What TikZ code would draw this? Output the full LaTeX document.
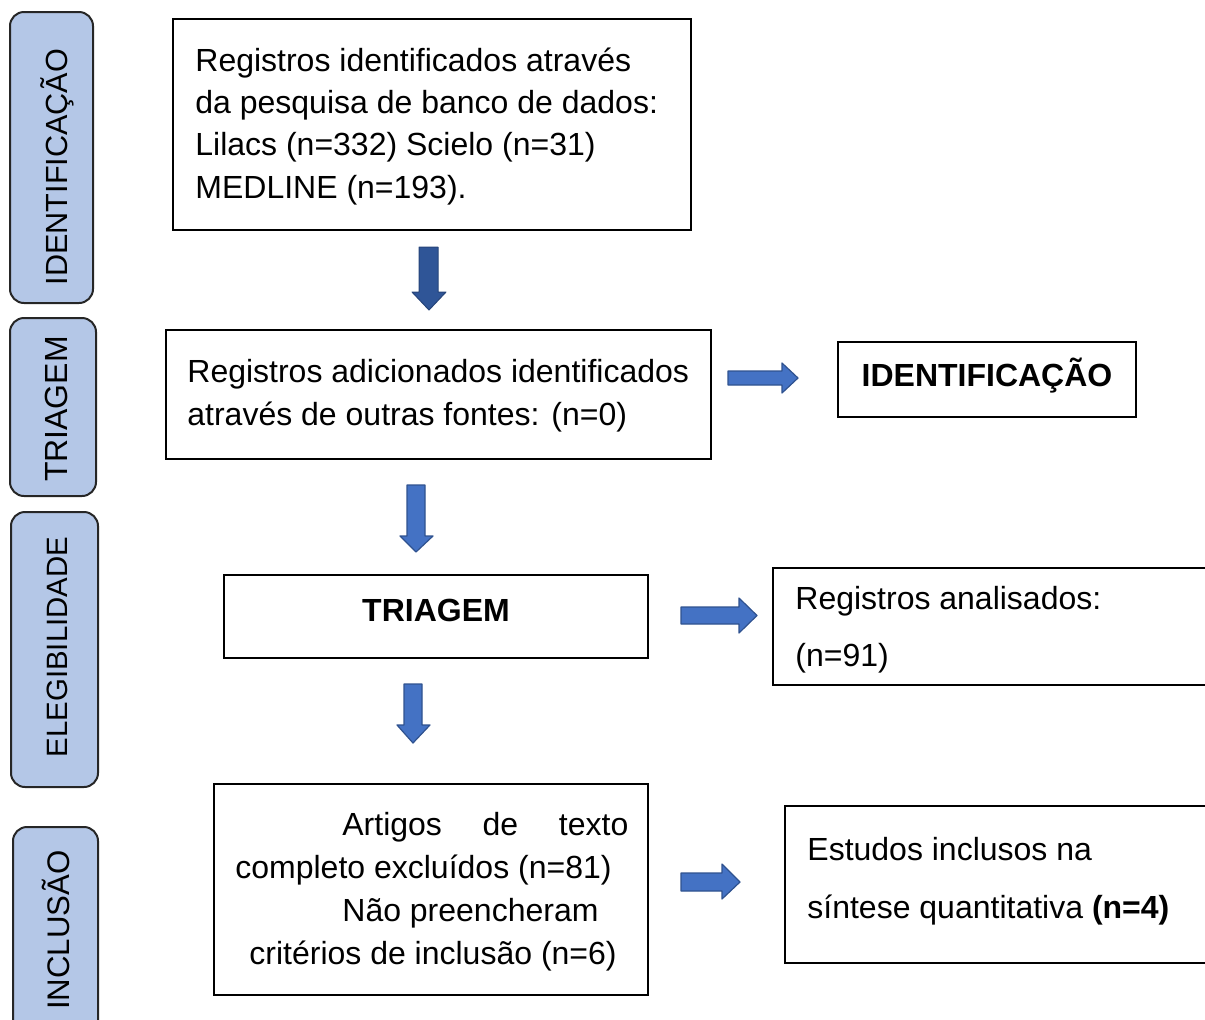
\documentclass[tikz,border=0pt]{standalone}
\usepackage{fontspec}
\setmainfont{Liberation Sans}
\usetikzlibrary{fit}
\definecolor{sidefill}{HTML}{B4C7E7}
\definecolor{arrdark}{HTML}{2F5597}
\definecolor{arrfill}{HTML}{4472C4}
\definecolor{arredge}{HTML}{2F528F}
\begin{document}
\begin{tikzpicture}[x=0.5pt,y=-0.5pt,
  box/.style={draw=black, line width=0.9pt, inner sep=0pt},
  sidebox/.style={draw=black!85, fill=sidefill, line width=1pt, rounded corners=7pt, inner sep=0pt},
  txt/.style={inner sep=0pt, anchor=base west, font=\fontsize{16pt}{21pt}\selectfont},
  ctxt/.style={inner sep=0pt, anchor=base, font=\fontsize{16pt}{21pt}\selectfont\bfseries},
  sidetxt/.style={inner sep=0pt, anchor=base, rotate=90},
  darkarrow/.style={fill=arrdark, draw=arrdark!80!black, line width=0.5pt, line join=round},
  bluearrow/.style={fill=arrfill, draw=arredge, line width=0.6pt, line join=round}]
\useasboundingbox (0,0) rectangle (1205,1019);
\clip (0,0) rectangle (1205,1019);

% side labels
\node[sidebox, fit={(10,12) (93,303)}] (s1) {};
\node[sidebox, fit={(10,318) (96,496)}] (s2) {};
\node[sidebox, fit={(11,512) (98,787)}] (s3) {};
\node[sidebox, fit={(13,827) (98,1045)}] (s4) {};
\node[sidetxt, font=\fontsize{15.3pt}{17pt}\selectfont] (l1) at (68,167) {IDENTIFICAÇÃO};
\node[sidetxt, font=\fontsize{16pt}{18pt}\selectfont] (l2) at (68,409) {TRIAGEM};
\node[sidetxt, font=\fontsize{14.7pt}{17pt}\selectfont] (l3) at (68,647) {ELEGIBILIDADE};
\node[sidetxt, font=\fontsize{15.6pt}{18pt}\selectfont] (l4) at (69,930) {INCLUSÃO};

% boxes
\node[box, fit={(173,19) (691,230)}] (b1) {};
\node[box, fit={(166,330) (711,459)}] (b2) {};
\node[box, fit={(838,342) (1136,417)}] (b3) {};
\node[box, fit={(224,575) (648,658)}] (b4) {};
\node[box, fit={(773,568) (1230,685)}] (b5) {};
\node[box, fit={(214,784) (648,995)}] (b6) {};
\node[box, fit={(785,806) (1230,963)}] (b7) {};

% texts
\node[txt] (t1a) at (195,71) {Registros identificados através};
\node[txt] (t1b) at (195,113) {da pesquisa de banco de dados:};
\node[txt] (t1c) at (195,155) {Lilacs (n=332) Scielo (n=31)};
\node[txt] (t1d) at (195,198) {MEDLINE (n=193).};

\node[txt] (t2a) at (187,382) {Registros adicionados identificados};
\node[txt] (t2b) at (187,425) {através de outras fontes: (n=0)};

\node[ctxt] (t3) at (987,386) {IDENTIFICAÇÃO};
\node[ctxt] (t4) at (436,621) {TRIAGEM};

\node[txt] (t5a) at (795,609) {Registros analisados:};
\node[txt] (t5b) at (795,666) {(n=91)};

\node[txt] (t6a) at (342,835) {\makebox[143pt][s]{Artigos\hfill de\hfill texto}};
\node[txt] (t6b) at (235,878) {completo excluídos (n=81)};
\node[txt] (t6c) at (342,921) {Não preencheram};
\node[txt] (t6d) at (249,964) {critérios de inclusão (n=6)};

\node[txt] (t7a) at (807,860) {Estudos inclusos na};
\node[txt] (t7b) at (807,918) {síntese quantitativa \textbf{(n=4)}};

% block arrows
\draw[darkarrow] (419,247) -- (438,247) -- (438,292) -- (446,292) -- (429,310) -- (412,292) -- (419,292) -- cycle;
\draw[bluearrow] (407,485) -- (425,485) -- (425,536) -- (433,536) -- (416,552) -- (400,536) -- (407,536) -- cycle;
\draw[bluearrow] (404,684) -- (422,684) -- (422,725) -- (430,725) -- (413,743) -- (397,725) -- (404,725) -- cycle;
\draw[bluearrow] (728,371) -- (782,371) -- (782,363) -- (798,378) -- (782,393) -- (782,385) -- (728,385) -- cycle;
\draw[bluearrow] (681,607) -- (739,607) -- (739,598) -- (757,615.5) -- (739,633) -- (739,624) -- (681,624) -- cycle;
\draw[bluearrow] (681,873) -- (722,873) -- (722,864) -- (740,882) -- (722,899) -- (722,891) -- (681,891) -- cycle;
\end{tikzpicture}
\end{document}
